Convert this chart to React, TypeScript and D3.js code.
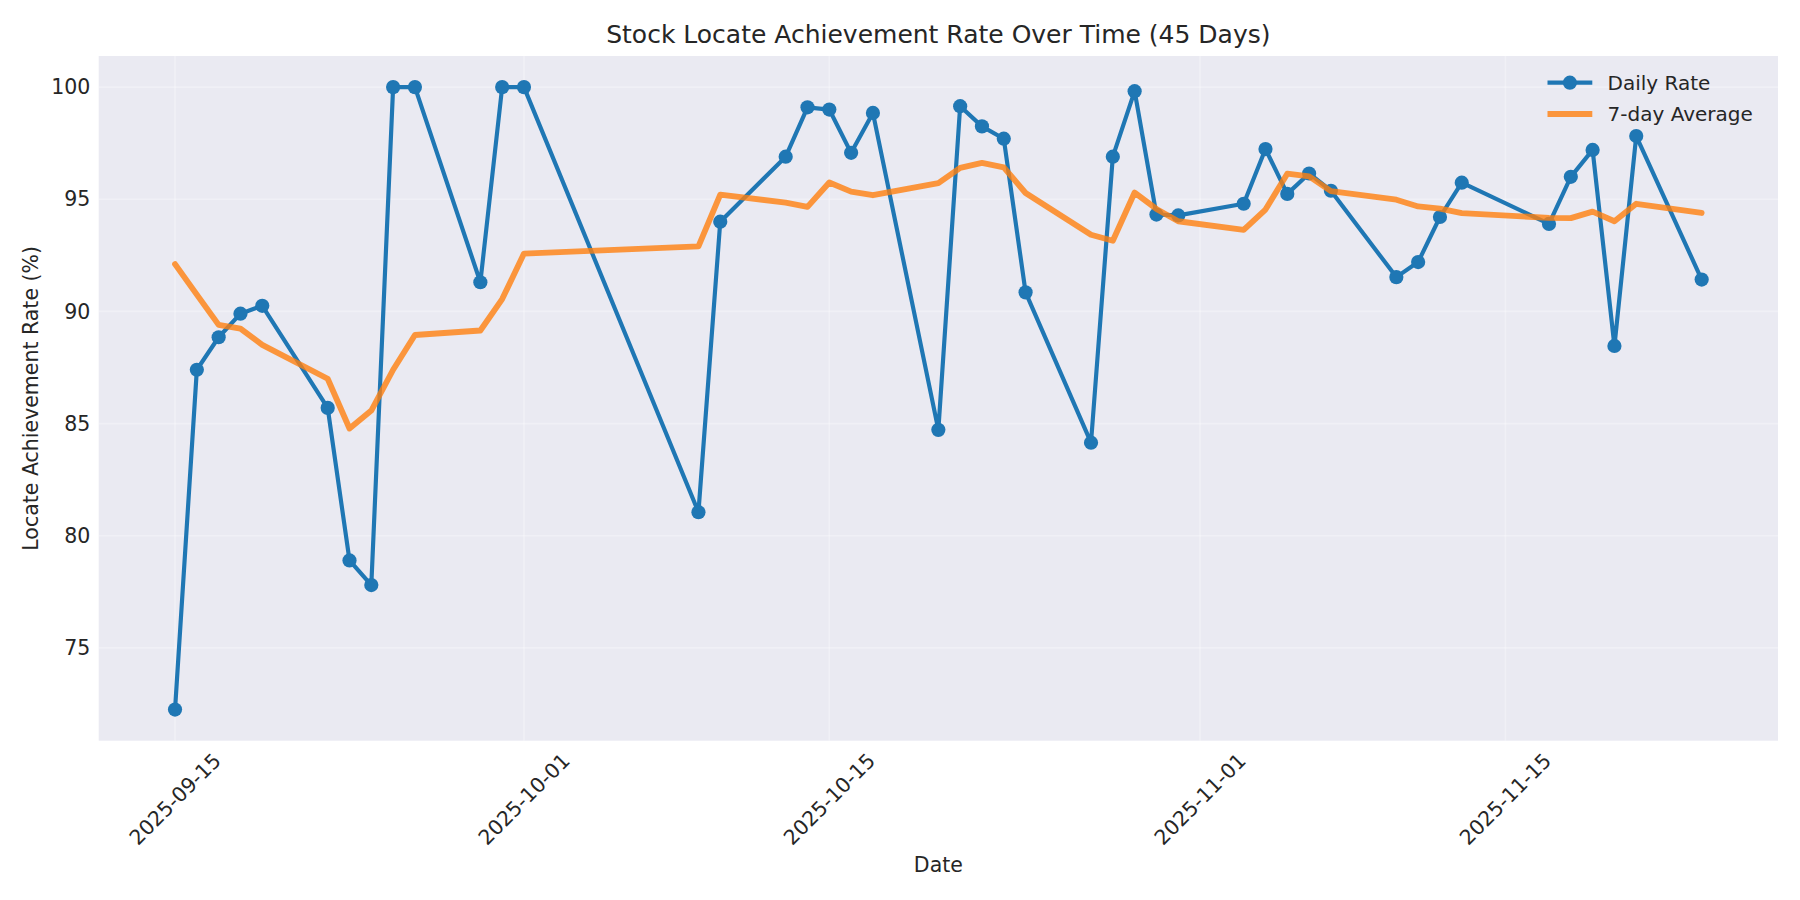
import React, { useRef, useEffect } from 'react';
import * as d3 from 'd3';

// trading days shown in the chart
const dates: string[] = [
    '2025-09-15', '2025-09-16', '2025-09-17', '2025-09-18', '2025-09-19',
    '2025-09-22', '2025-09-23', '2025-09-24', '2025-09-25', '2025-09-26',
    '2025-09-29', '2025-09-30', '2025-10-01',
    '2025-10-09', '2025-10-10',
    '2025-10-13', '2025-10-14', '2025-10-15', '2025-10-16', '2025-10-17',
    '2025-10-20', '2025-10-21', '2025-10-22', '2025-10-23', '2025-10-24',
    '2025-10-27', '2025-10-28', '2025-10-29', '2025-10-30', '2025-10-31',
    '2025-11-03', '2025-11-04', '2025-11-05', '2025-11-06', '2025-11-07',
    '2025-11-10', '2025-11-11', '2025-11-12', '2025-11-13',
    '2025-11-17', '2025-11-18', '2025-11-19', '2025-11-20', '2025-11-21',
    '2025-11-24',
];

const dailyRate: number[] = [
    72.25, 87.4, 88.85, 89.9, 90.25,
    85.7, 78.9, 77.8, 100, 100,
    91.3, 100, 100,
    81.05, 94.0,
    96.9, 99.1, 99.0, 97.07, 98.85,
    84.72, 99.15, 98.25, 97.7, 90.85,
    84.15, 96.9, 99.82, 94.32, 94.28,
    94.8, 97.24, 95.24, 96.15, 95.38,
    91.53, 92.2, 94.21, 95.74,
    93.9, 96.0, 97.2, 88.46, 97.82,
    91.42,
];

const avg7: number[] = [
    92.11, 90.75, 89.4, 89.23, 88.51,
    87.0, 84.78, 85.58, 87.4, 88.95,
    89.15, 90.55, 92.58,
    92.9, 95.21,
    94.85, 94.66, 95.75, 95.34, 95.18,
    95.72, 96.4, 96.62, 96.42, 95.28,
    93.42, 93.15, 95.3, 94.57, 94.02,
    93.64, 94.54, 96.14, 96.02, 95.36,
    94.98, 94.68, 94.58, 94.38,
    94.17, 94.16, 94.45, 94.02, 94.8,
    94.39,
];

const xTickDates: string[] = ['2025-09-15', '2025-10-01', '2025-10-15', '2025-11-01', '2025-11-15'];
const yTicks: number[] = [75, 80, 85, 90, 95, 100];

const seriesNames: string[] = ['Daily Rate', '7-day Average'];

const W = 1800;
const H = 900;
const FONT = '"DejaVu Sans", sans-serif';
const TEXT = '#262626';
const BLUE = '#1f77b4';
const ORANGE = '#ff7f0e';
const MARKER_R = 7.1;
const LABEL_SIZE = 20.5;

interface Point {
    date: Date;
    value: number;
}

const Chart: React.FC = () => {
    const ref = useRef<SVGSVGElement>(null);

    useEffect(() => {
        if (!ref.current) return;
        const svg = d3.select(ref.current);
        svg.selectAll('*').remove();

        const parse = d3.utcParse('%Y-%m-%d');
        const fmt = d3.utcFormat('%Y-%m-%d');
        const daily: Point[] = dates.map((d, i) => ({ date: parse(d)!, value: dailyRate[i] }));
        const avg: Point[] = dates.map((d, i) => ({ date: parse(d)!, value: avg7[i] }));

        const left = 98.7, right = 1778, top = 56, bottom = 740.7;

        // matplotlib-style 5% margins
        const [x0, x1] = d3.extent(daily, d => d.date) as [Date, Date];
        const xPad = (x1.getTime() - x0.getTime()) * 0.05;
        const xScale = d3.scaleUtc()
            .domain([new Date(x0.getTime() - xPad), new Date(x1.getTime() + xPad)])
            .range([left, right]);

        const allVals = dailyRate.concat(avg7);
        const yMin = d3.min(allVals)!, yMax = d3.max(allVals)!;
        const yPad = (yMax - yMin) * 0.05;
        const yScale = d3.scaleLinear()
            .domain([yMin - yPad, yMax + yPad])
            .range([bottom, top]);

        svg.append('rect')
            .attr('width', W).attr('height', H).attr('fill', '#ffffff');

        svg.append('rect')
            .attr('x', left).attr('y', top)
            .attr('width', right - left).attr('height', bottom - top)
            .attr('fill', '#eaeaf2');

        // grid
        const grid = svg.append('g').attr('stroke', '#ffffff').attr('stroke-opacity', 0.3).attr('stroke-width', 1.67);
        grid.selectAll('.gy')
            .data(yTicks)
            .enter()
            .append('line')
            .attr('x1', left).attr('x2', right)
            .attr('y1', d => yScale(d)).attr('y2', d => yScale(d));
        grid.selectAll('.gx')
            .data(xTickDates)
            .enter()
            .append('line')
            .attr('y1', top).attr('y2', bottom)
            .attr('x1', d => xScale(parse(d)!)).attr('x2', d => xScale(parse(d)!));

        // y tick labels
        svg.append('g')
            .selectAll('text')
            .data(yTicks)
            .enter()
            .append('text')
            .attr('x', left - 8.4)
            .attr('y', d => yScale(d))
            .attr('dy', '0.35em')
            .attr('text-anchor', 'end')
            .attr('font-family', FONT)
            .attr('font-size', LABEL_SIZE)
            .attr('fill', TEXT)
            .text(d => d);

        // x tick labels, rotated 45 and centred on the tick
        svg.append('g')
            .selectAll('text')
            .data(xTickDates)
            .enter()
            .append('text')
            .attr('transform', d => `translate(${xScale(parse(d)!)},${bottom + 58.3}) rotate(-45)`)
            .attr('text-anchor', 'middle')
            .attr('dy', '0.35em')
            .attr('font-family', FONT)
            .attr('font-size', LABEL_SIZE)
            .attr('fill', TEXT)
            .text(d => fmt(parse(d)!));

        // lines
        const line = d3.line<Point>()
            .x(d => xScale(d.date))
            .y(d => yScale(d.value));

        svg.append('path')
            .datum(daily)
            .attr('d', line)
            .attr('fill', 'none')
            .attr('stroke', BLUE)
            .attr('stroke-width', 4.17)
            .attr('stroke-linejoin', 'round')
            .attr('stroke-linecap', 'round');

        svg.append('g')
            .selectAll('circle')
            .data(daily)
            .enter()
            .append('circle')
            .attr('cx', d => xScale(d.date))
            .attr('cy', d => yScale(d.value))
            .attr('r', MARKER_R)
            .attr('fill', BLUE);

        svg.append('path')
            .datum(avg)
            .attr('d', line)
            .attr('fill', 'none')
            .attr('stroke', ORANGE)
            .attr('stroke-opacity', 0.8)
            .attr('stroke-width', 5.83)
            .attr('stroke-linejoin', 'round')
            .attr('stroke-linecap', 'round');

        // title and axis labels
        svg.append('text')
            .attr('x', (left + right) / 2)
            .attr('y', 43.3)
            .attr('text-anchor', 'middle')
            .attr('font-family', FONT)
            .attr('font-size', 25)
            .attr('fill', TEXT)
            .text('Stock Locate Achievement Rate Over Time (45 Days)');

        svg.append('text')
            .attr('x', (left + right) / 2)
            .attr('y', 871.7)
            .attr('text-anchor', 'middle')
            .attr('font-family', FONT)
            .attr('font-size', LABEL_SIZE)
            .attr('fill', TEXT)
            .text('Date');

        svg.append('text')
            .attr('transform', `translate(37.8,${(top + bottom) / 2}) rotate(-90)`)
            .attr('text-anchor', 'middle')
            .attr('font-family', FONT)
            .attr('font-size', LABEL_SIZE)
            .attr('fill', TEXT)
            .text('Locate Achievement Rate (%)');

        // legend (no frame)
        const lg = svg.append('g').attr('transform', `translate(${right - 230.5},${top + 26.7})`);
        const rowH = 31.3;
        seriesNames.forEach((name, i) => {
            const row = lg.append('g').attr('transform', `translate(0,${i * rowH})`);
            row.append('line')
                .attr('x1', 0).attr('x2', 44.8)
                .attr('y1', 0).attr('y2', 0)
                .attr('stroke', i === 0 ? BLUE : ORANGE)
                .attr('stroke-opacity', i === 0 ? 1 : 0.8)
                .attr('stroke-width', i === 0 ? 4.17 : 5.83);
            if (i === 0) {
                row.append('circle').attr('cx', 22.4).attr('cy', 0).attr('r', MARKER_R).attr('fill', BLUE);
            }
            row.append('text')
                .attr('x', 60.1)
                .attr('dy', '0.35em')
                .attr('font-family', FONT)
                .attr('font-size', 20)
                .attr('fill', TEXT)
                .text(name);
        });
    }, []);

    return <svg ref={ref} width={W} height={H} style={{ position: 'absolute', left: 0, top: 0 }}></svg>;
};

const App: React.FC = () => <Chart />;

export default App;
